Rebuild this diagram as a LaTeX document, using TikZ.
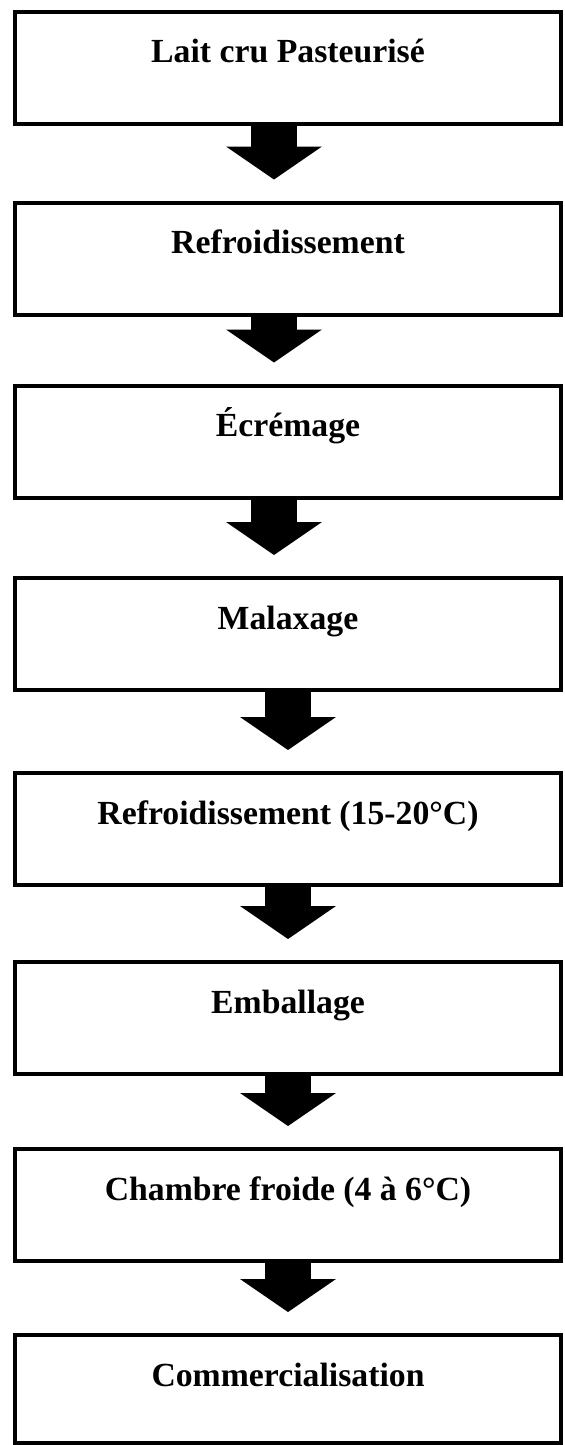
\documentclass[tikz,border=0pt]{standalone}
\usepackage{fontspec}
\setmainfont{Liberation Serif}
\usetikzlibrary{arrows.meta}
\begin{document}
\begin{tikzpicture}
            \useasboundingbox (0,0) rectangle (14.1,-36.125);
            \begin{scope}[every node/.style={rectangle,draw,line width=0.1cm,inner sep=0pt,minimum width=13.65cm,minimum height=2.8cm,text height=1.275cm,text depth=1.525cm,font=\fontsize{24}{28}\selectfont\bfseries}]
                \node (1) at (7.2,-1.6875) {Lait cru Pasteurisé};
                \node (2) at (7.2,-6.4625) {Refroidissement};
                \node (3) at (7.2,-11.0375) {Écrémage};
                \node (4) at (7.2,-15.85) {Malaxage};
                \node (5) at (7.2,-20.725) {Refroidissement (15-20°C)};
                \node (6) at (7.2,-25.45) {Emballage};
                \node (7) at (7.2,-30.125) {Chambre froide (4 à 6°C)};
                \node[minimum height=2.7cm,text depth=1.425cm] (8) at (7.2,-34.725) {Commercialisation};
            \end{scope}
            \begin{scope}[line width=1.15cm,-{Triangle[width=2.4cm,length=0.825cm,line width=0pt]},shorten >=0.525cm]
                \draw ([xshift=-0.35cm]1.south) -- ([xshift=-0.35cm]2.north);
                \draw ([xshift=-0.35cm]2.south) -- ([xshift=-0.35cm]3.north);
                \draw ([xshift=-0.35cm]3.south) -- ([xshift=-0.35cm]4.north);
                \draw (4.south) -- (5.north);
                \draw (5.south) -- (6.north);
                \draw (6.south) -- (7.north);
                \draw (7.south) -- (8.north);
            \end{scope}
        \end{tikzpicture}
\end{document}
